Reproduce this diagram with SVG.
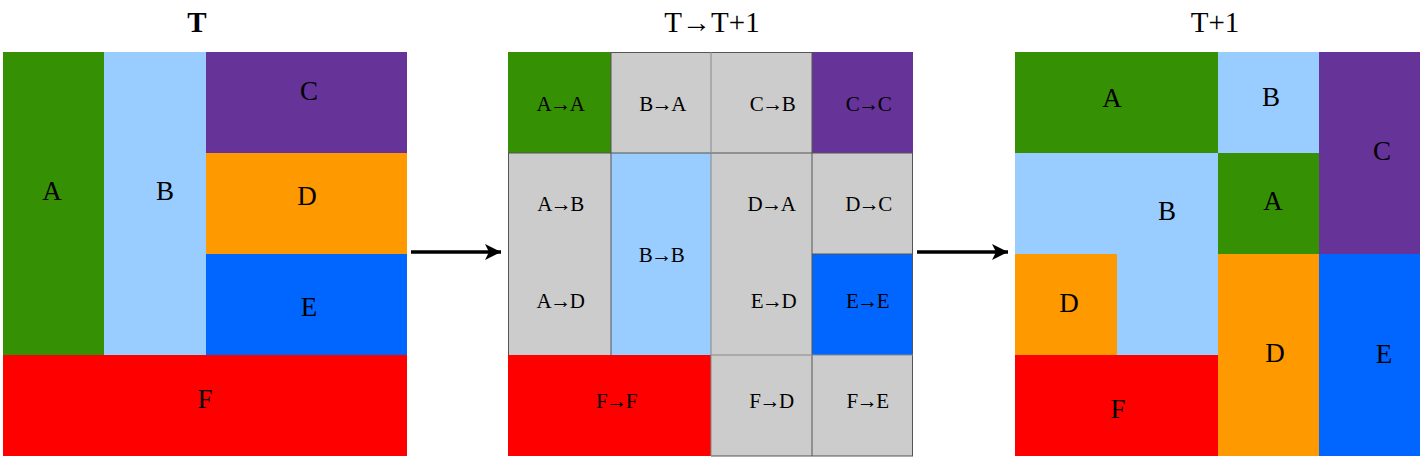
<svg xmlns="http://www.w3.org/2000/svg" width="1422" height="460" viewBox="0 0 1422 460">
<style>
text{font-family:"Liberation Serif","Times New Roman",serif;fill:#000;text-anchor:middle}
.t{font-size:29px}
.l{font-size:27px}
.m{font-size:21px;letter-spacing:-1.5px}
.g{fill:#359004}.lb{fill:#99ccff}.p{fill:#663399}.o{fill:#ff9900}.b{fill:#0066ff}.r{fill:#ff0000}
.gr{fill:#cccccc}
.grid{stroke:#555;stroke-width:1;fill:none}
.grid2{stroke:#888;stroke-width:1;fill:none}
.conn{stroke:#000;stroke-width:3.5;fill:none}
</style>
<defs>
<marker id="ah" markerUnits="userSpaceOnUse" markerWidth="20" markerHeight="18" refX="16" refY="8" orient="auto">
<path d="M0,0 L16,8 L0,16 L4,8 Z" fill="#000"/>
</marker>
</defs>
<g id="titles">
<text class="t" x="197" y="32" font-weight="bold">T</text>
<text class="t" x="712" y="32">T→T+1</text>
<text class="t" x="1215" y="32">T+1</text>
</g>
<g id="panel-T">
<g id="T-A"><rect class="g" x="3" y="52" width="101" height="303"/><text class="l" x="52" y="200">A</text></g>
<g id="T-B"><rect class="lb" x="104" y="52" width="102" height="303"/><text class="l" x="165" y="200">B</text></g>
<g id="T-C"><rect class="p" x="206" y="52" width="201" height="101"/><text class="l" x="309" y="100">C</text></g>
<g id="T-D"><rect class="o" x="206" y="153" width="201" height="101"/><text class="l" x="307" y="205">D</text></g>
<g id="T-E"><rect class="b" x="206" y="254" width="201" height="101"/><text class="l" x="309" y="316">E</text></g>
<g id="T-F"><rect class="r" x="3" y="355" width="404" height="101"/><text class="l" x="205" y="408">F</text></g>
</g>
<g id="panel-trans">
<g id="AA"><rect class="g" x="508" y="52" width="103" height="101"/><text class="m" x="560" y="111">A→A</text></g>
<g id="BA"><rect class="gr" x="611" y="52" width="100" height="101"/><text class="m" x="662" y="111">B→A</text></g>
<g id="CB"><rect class="gr" x="711" y="52" width="101" height="101"/><text class="m" x="772" y="111">C→B</text></g>
<g id="CC"><rect class="p" x="812" y="52" width="101" height="101"/><text class="m" x="868" y="111">C→C</text></g>
<g id="AB"><rect class="gr" x="508" y="153" width="103" height="101"/><text class="m" x="560" y="211">A→B</text></g>
<g id="BB"><rect class="lb" x="611" y="153" width="100" height="202"/><text class="m" x="661" y="262">B→B</text></g>
<g id="DA"><rect class="gr" x="711" y="153" width="101" height="101"/><text class="m" x="771" y="211">D→A</text></g>
<g id="DC"><rect class="gr" x="812" y="153" width="101" height="101"/><text class="m" x="868" y="211">D→C</text></g>
<g id="AD"><rect class="gr" x="508" y="254" width="103" height="101"/><text class="m" x="560" y="308">A→D</text></g>
<g id="ED"><rect class="gr" x="711" y="254" width="101" height="101"/><text class="m" x="773" y="308">E→D</text></g>
<g id="EE"><rect class="b" x="812" y="254" width="101" height="101"/><text class="m" x="867" y="308">E→E</text></g>
<g id="FF"><rect class="r" x="508" y="355" width="203" height="101"/><text class="m" x="616" y="408">F→F</text></g>
<g id="FD"><rect class="gr" x="711" y="355" width="101" height="101"/><text class="m" x="771" y="408">F→D</text></g>
<g id="FE"><rect class="gr" x="812" y="355" width="101" height="101"/><text class="m" x="867" y="408">F→E</text></g>
<g id="grid">
<path class="grid" d="M611,52.5 H812 M508.5,153 V355 M611,52 V355 M812,52 V456 M912.5,153 V456 M508,153 H913 M812,254 H913 M711,456 H913"/>
<path class="grid2" d="M711,52 V456 M711,355 H913"/>
</g>
</g>
<g id="panel-T1">
<g id="T1-A1"><rect class="g" x="1015" y="52" width="203" height="101"/><text class="l" x="1112" y="107">A</text></g>
<g id="T1-B1"><rect class="lb" x="1218" y="52" width="101" height="101"/><text class="l" x="1271" y="106">B</text></g>
<g id="T1-C"><rect class="p" x="1319" y="52" width="101" height="202"/><text class="l" x="1382" y="160">C</text></g>
<g id="T1-B2"><path class="lb" d="M1015,153 H1218 V355 H1117 V254 H1015 Z"/><text class="l" x="1167" y="220">B</text></g>
<g id="T1-A2"><rect class="g" x="1218" y="153" width="101" height="101"/><text class="l" x="1273" y="210">A</text></g>
<g id="T1-D1"><rect class="o" x="1015" y="254" width="102" height="101"/><text class="l" x="1069" y="312">D</text></g>
<g id="T1-F"><rect class="r" x="1015" y="355" width="203" height="101"/><text class="l" x="1118" y="418">F</text></g>
<g id="T1-D2"><rect class="o" x="1218" y="254" width="101" height="202"/><text class="l" x="1275" y="362">D</text></g>
<g id="T1-E"><rect class="b" x="1319" y="254" width="101" height="202"/><text class="l" x="1384" y="363">E</text></g>
</g>
<g id="connectors">
<line class="conn" x1="411" y1="252" x2="501" y2="252" marker-end="url(#ah)"/>
<line class="conn" x1="917" y1="252" x2="1008" y2="252" marker-end="url(#ah)"/>
</g>
</svg>
